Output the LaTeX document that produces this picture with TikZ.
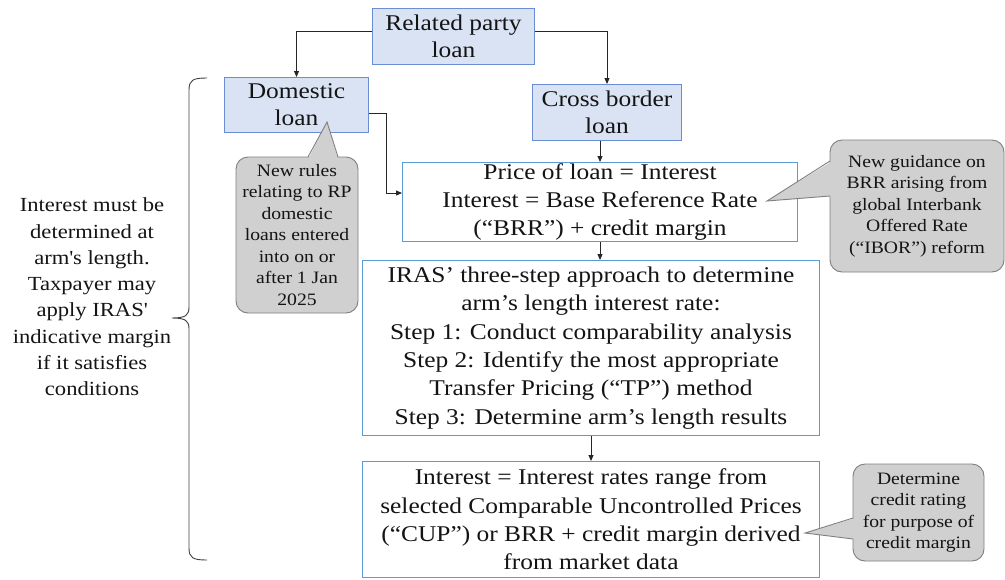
\documentclass[tikz,border=0pt]{standalone}
\usepackage{fontspec}
\setmainfont[FakeStretch=1.13]{Liberation Serif}
\usetikzlibrary{arrows.meta,calc}
\definecolor{boxfill}{HTML}{DAE3F3}
\definecolor{boxline}{HTML}{6A8ED6}
\definecolor{lightline}{HTML}{5B9BD5}
\definecolor{callfill}{HTML}{D0D0D0}
\definecolor{callline}{HTML}{7F7F7F}
\definecolor{txt}{HTML}{141414}
\begin{document}
\begin{tikzpicture}[x=1pt,y=-1pt,
 every node/.style={text=txt},
 bluebox/.style={draw=boxline, fill=boxfill, line width=1pt, inner sep=0pt, align=center, font=\fontsize{22.5}{27}\selectfont},
 whitebox/.style={draw=lightline, fill=white, line width=1pt, inner sep=0pt, align=center, font=\fontsize{22.5}{28.4}\selectfont},
 callbox/.style={draw=callline, fill=callfill, line width=0.9pt, rounded corners=12pt, inner sep=0pt, align=center, font=\fontsize{17.4}{21.5}\selectfont},
 tailfill/.style={fill=callfill},
 tailline/.style={draw=callline, line width=0.9pt},
 arr/.style={draw=black!85, line width=0.9pt, -{Triangle[length=6pt,width=5pt]}},
 bracestyle/.style={draw=black!75, line width=0.9pt},
]
\useasboundingbox (0,0) rectangle (1005,579);

% main boxes
\node[bluebox, minimum width=162pt, minimum height=56pt] (rp) at (453.5,36.5) {Related party\\loan};
\node[bluebox, minimum width=144pt, minimum height=55pt] (dom) at (296.5,105) {Domestic\\loan};
\node[bluebox, minimum width=149pt, minimum height=56pt] (cb) at (607,112.5) {Cross border\\loan};
\node[whitebox, minimum width=395pt, minimum height=79pt] (price) at (600,202) {Price of loan = Interest\\Interest = Base Reference Rate\\(“BRR”) + credit margin};
\node[whitebox, minimum width=457pt, minimum height=175pt] (steps) at (591,348) {IRAS’ three-step approach to determine\\arm’s length interest rate:\\Step 1: Conduct comparability analysis\\Step 2: Identify the most appropriate\\Transfer Pricing (“TP”) method\\Step 3: Determine arm’s length results};
\node[whitebox, minimum width=457pt, minimum height=116pt] (int) at (591,519.5) {Interest = Interest rates range from\\selected Comparable Uncontrolled Prices\\(“CUP”) or BRR + credit margin derived\\from market data};

% connectors
\draw[arr] ([yshift=5.5pt]rp.west) -| (dom.north);
\draw[arr] ([yshift=5.5pt]rp.east) -| (cb.north);
\draw[arr] (cb.south -| price.north) -- (price.north);
\draw[arr] ([yshift=-8pt]dom.east) -- ++(17,0) |- ([yshift=9pt]price.west);
\draw[arr] (price.south) -- (price.south |- steps.north);
\draw[arr] (steps.south) -- (int.north);

% callout 1
\node[callbox, minimum width=122pt, minimum height=156pt] (c1) at (297,235) {New rules\\relating to RP\\domestic\\loans entered\\into on or\\after 1 Jan\\2025};
\fill[tailfill] (308,159.5) -- (327,122) -- (338,159.5) -- cycle;
\draw[tailline] (308,157) -- (327,122) -- (338,157);

% callout 2
\node[callbox, minimum width=174pt, minimum height=132pt] (c2) at (917,206) {New guidance on\\BRR arising from\\global Interbank\\Offered Rate\\(“IBOR”) reform};
\fill[tailfill] (832.5,161) -- (767,201) -- (832.5,196) -- cycle;
\draw[tailline] (830,161) -- (767,201) -- (830,196);

% callout 3
\node[callbox, minimum width=131pt, minimum height=97pt] (c3) at (918.5,512.5) {Determine\\credit rating\\for purpose of\\credit margin};
\fill[tailfill] (855.5,518) -- (805,533) -- (855.5,539) -- cycle;
\draw[tailline] (853,518) -- (805,533) -- (853,539);

% brace and note
\draw[bracestyle] (207,78) .. controls (193,78) and (189,80) .. (189,90) -- (189,307) .. controls (189,315) and (186,318) .. (172,318) .. controls (186,318) and (189,321) .. (189,329) -- (189,548) .. controls (189,558) and (193,560) .. (207,560);
\node[align=center, font=\fontsize{20}{26.3}\selectfont] (note) at (92,297) {Interest must be\\determined at\\arm\textquotesingle s length.\\Taxpayer may\\apply IRAS\textquotesingle\\indicative margin\\if it satisfies\\conditions};
\end{tikzpicture}
\end{document}
